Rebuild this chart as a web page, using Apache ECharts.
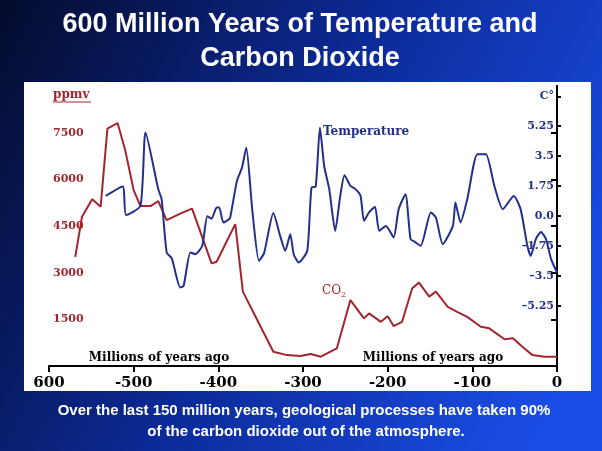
<!DOCTYPE html>
<html>
<head>
<meta charset="utf-8">
<script src="https://cdn.jsdelivr.net/npm/echarts@6/dist/echarts.min.js"></script>
<style>
  html, body { margin: 0; padding: 0; }
  #chart { width: 602px; height: 451px; }
</style>
</head>
<body>
<div id="chart"></div>
<script>
// temperature, degrees C (right axis)
const tempYears = [-533, -513, -509, -492, -486, -471, -467, -461, -455, -445, -441, -433, -427, -419,
  -413, -408, -402, -399, -394, -388, -386, -378, -372, -367, -360, -352, -346, -335, -327, -321,
  -315, -311, -305, -295, -290, -285, -280, -275, -269, -262, -256, -251, -244, -238, -232, -228,
  -222, -215, -210, -202, -193, -187, -179, -173, -168, -161, -149, -143, -135, -123, -120, -114,
  -106, -94, -84, -74, -64, -51, -43, -35, -31, -25, -19, -13, -7, 0];
const tempValues = [1.18, 1.73, 0.06, 0.6, 4.88, 1.58, 0.99, -2.12, -2.47, -4.16, -4.07, -2.12, -2.22, -1.73,
  0.0, -0.15, 0.5, 0.5, -0.37, -0.2, -0.08, 2.06, 2.84, 4.01, 0.41, -2.61, -2.16, 0.18, -1.15, -2.02,
  -1.05, -2.22, -2.7, -2.02, 1.67, 1.73, 5.17, 2.93, 1.58, -0.86, 1.18, 2.39, 1.77, 1.58, 1.18, -0.27,
  0.22, 0.55, -0.86, -0.57, -1.24, 0.41, 1.28, -1.34, -1.5, -1.73, 0.22, -0.08, -1.63, -0.57, 0.8, -0.37,
  0.99, 3.62, 3.62, 1.77, 0.41, 1.18, 0.41, -1.73, -2.32, -1.34, -0.92, -1.34, -2.51, -3.29];

// carbon dioxide, ppmv (left axis)
const co2Years = [-569, -561, -549, -539, -531, -519, -510, -500, -492, -480, -471, -461, -445, -431,
  -408, -402, -380, -371, -350, -335, -319, -303, -291, -279, -260, -244, -228, -222, -208, -200,
  -193, -183, -171, -163, -151, -143, -129, -118, -106, -90, -80, -62, -52, -41, -29, -15, 0];
const co2Values = [3510, 4800, 5360, 5120, 7630, 7810, 6940, 5650, 5140, 5140, 5300, 4690, 4900, 5060,
  3300, 3350, 4560, 2390, 1260, 460, 350, 320, 385, 300, 570, 2120, 1530, 1690, 1420, 1600,
  1285, 1420, 2500, 2680, 2230, 2390, 1900, 1740, 1580, 1260, 1210, 860, 890, 620, 350, 300, 300];

const ppmvTicks = [1500, 3000, 4500, 6000, 7500];
const tempTicks = [-5.25, -3.5, -1.75, 0, 1.75, 3.5, 5.25, 7];

const zip = (xs, ys) => xs.map((x, i) => [x, ys[i]]);

const serif = 'DejaVu Serif';
const red = '#a3262f';
const navy = '#22308a';

const chart = echarts.init(document.getElementById('chart'));
chart.setOption({
  animation: false,
  backgroundColor: new echarts.graphic.LinearGradient(0, 0, 1, 0.7, [
    { offset: 0, color: '#040b2c' },
    { offset: 0.5, color: '#0c2a96' },
    { offset: 1, color: '#1a4de6' }
  ]),
  grid: { left: 49, right: 45, top: 86, bottom: 85 },
  xAxis: {
    type: 'value',
    min: -600,
    max: 0,
    interval: 100,
    splitLine: { show: false },
    axisLine: { lineStyle: { color: '#000', width: 2 } },
    axisTick: { length: 6, lineStyle: { color: '#000', width: 2 } },
    axisLabel: {
      color: '#000', fontFamily: serif, fontWeight: 'bold', fontSize: 15, margin: 10,
      formatter: v => (v === -600 ? '600' : String(v))
    }
  },
  yAxis: [
    {
      type: 'value',
      position: 'left',
      min: 0,
      max: 9000,
      interval: 1500,
      splitLine: { show: false },
      axisLine: { show: true, lineStyle: { color: '#000', width: 2 } },
      axisTick: { show: true, length: 6, customValues: ppmvTicks, lineStyle: { color: '#000', width: 2 } },
      axisLabel: {
        inside: true, margin: 4, customValues: ppmvTicks,
        color: red, fontFamily: serif, fontWeight: 'bold', fontSize: 11,
        formatter: v => String(v)
      }
    },
    {
      type: 'value',
      position: 'right',
      min: -8.75,
      max: 7.6,
      interval: 1.75,
      splitLine: { show: false },
      axisLine: { show: true, lineStyle: { color: '#000', width: 2 } },
      axisTick: { show: true, length: 4, customValues: tempTicks, lineStyle: { color: '#000', width: 2 } },
      axisLabel: {
        inside: true, margin: 3, customValues: tempTicks,
        color: navy, fontFamily: serif, fontWeight: 'bold', fontSize: 11,
        formatter: v => {
          if (v === 7) return 'C°';
          if (v === 0) return '0.0';
          return v < 0 ? '\u2013' + Math.abs(v) : String(v);
        }
      }
    }
  ],
  graphic: [
    { type: 'rect', z: -1, shape: { x: 24, y: 82, width: 567, height: 309 }, style: { fill: '#fff' } },
    { type: 'text', z: 100, x: 300, y: 25, style: { text: '600 Million Years of Temperature and', fill: '#fff', font: 'bold 27px "Liberation Sans"', align: 'center', verticalAlign: 'middle' } },
    { type: 'text', z: 100, x: 300, y: 59, style: { text: 'Carbon Dioxide', fill: '#fff', font: 'bold 27px "Liberation Sans"', align: 'center', verticalAlign: 'middle' } },
    { type: 'text', z: 100, x: 304, y: 411, style: { text: 'Over the last 150 million years, geological processes have taken 90%', fill: '#fff', font: 'bold 15px "Liberation Sans"', align: 'center', verticalAlign: 'middle' } },
    { type: 'text', z: 100, x: 306, y: 432, style: { text: 'of the carbon dioxide out of the atmosphere.', fill: '#fff', font: 'bold 15px "Liberation Sans"', align: 'center', verticalAlign: 'middle' } },
    { type: 'text', z: 100, x: 53, y: 95, style: { text: 'ppmv', fill: red, font: 'bold 12px "DejaVu Serif"', verticalAlign: 'middle' } },
    { type: 'line', z: 100, shape: { x1: 53, y1: 102, x2: 91, y2: 102 }, style: { stroke: red, lineWidth: 1 } },
    { type: 'text', z: 100, x: 323, y: 132, style: { text: 'Temperature', fill: navy, font: 'bold 12px "DejaVu Serif"', verticalAlign: 'middle' } },
    {
      type: 'text', z: 100, x: 322, y: 291,
      style: {
        text: '{a|CO}{b|2}', verticalAlign: 'middle',
        rich: {
          a: { fill: red, fontFamily: serif, fontSize: 12 },
          b: { fill: red, fontFamily: serif, fontSize: 8, padding: [8, 0, 0, 0] }
        }
      }
    },
    { type: 'text', z: 100, x: 159, y: 358, style: { text: 'Millions of years ago', fill: '#000', font: 'bold 12px "DejaVu Serif"', align: 'center', verticalAlign: 'middle' } },
    { type: 'text', z: 100, x: 433, y: 358, style: { text: 'Millions of years ago', fill: '#000', font: 'bold 12px "DejaVu Serif"', align: 'center', verticalAlign: 'middle' } }
  ],
  series: [
    {
      name: 'CO2',
      type: 'line',
      yAxisIndex: 0,
      symbol: 'none',
      lineStyle: { color: red, width: 2 },
      data: zip(co2Years, co2Values)
    },
    {
      name: 'Temperature',
      type: 'line',
      yAxisIndex: 1,
      symbol: 'none',
      smooth: 0.2,
      lineStyle: { color: navy, width: 2 },
      data: zip(tempYears, tempValues)
    }
  ]
});
</script>
</body>
</html>
